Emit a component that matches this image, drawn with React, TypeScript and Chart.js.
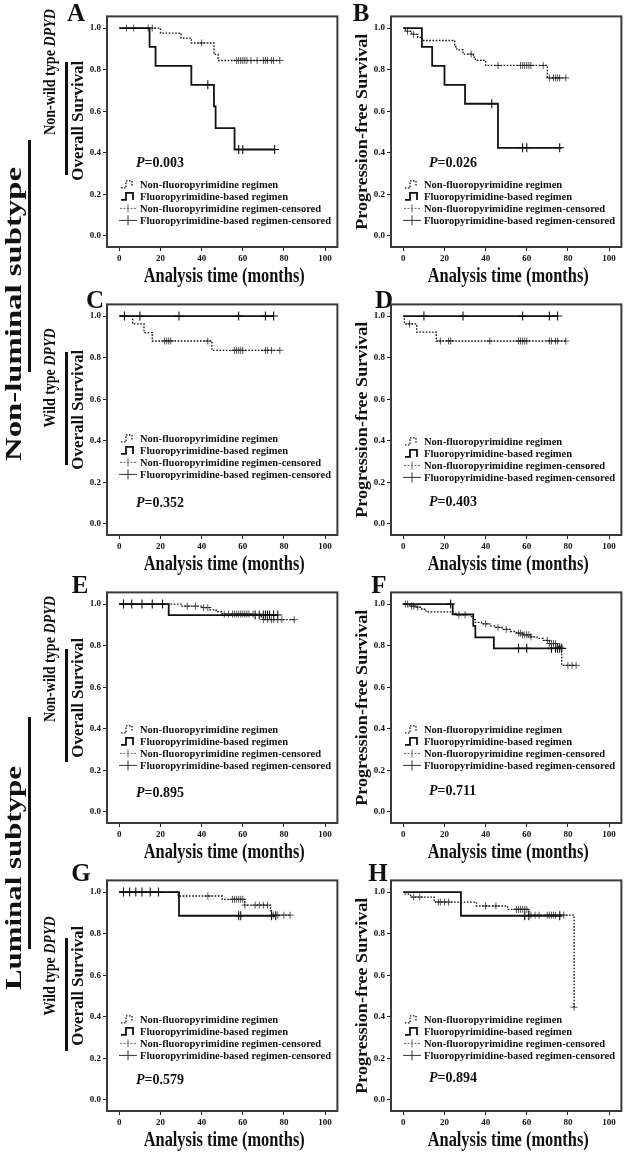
import React, { useEffect, useRef } from 'react';
import { Chart, registerables } from 'chart.js';

Chart.register(...registerables);

// ---------- shared axis / text content ----------
const X_TICKS = [0, 20, 40, 60, 80, 100];
const Y_TICKS = [0, 0.2, 0.4, 0.6, 0.8, 1.0];
const X_TITLE = 'Analysis time (months)';
const OS_TITLE = 'Overall Survival';
const PFS_TITLE = 'Progression-free Survival';
const LEGEND_LABELS = [
  'Non-fluoropyrimidine regimen',
  'Fluoropyrimidine-based regimen',
  'Non-fluoropyrimidine regimen-censored',
  'Fluoropyrimidine-based regimen-censored',
];
const PANEL_LETTERS = ['A', 'B', 'C', 'D', 'E', 'F', 'G', 'H'];
const P_VALUES = ['0.003', '0.026', '0.352', '0.403', '0.895', '0.711', '0.579', '0.894'];

// ---------- Panel A : non-luminal, non-wild type DPYD, OS ----------
const A_NON_T = [0, 20, 30, 35, 46, 48, 78];
const A_NON_S = [1, 0.976, 0.952, 0.928, 0.873, 0.844, 0.844];
const A_NON_CENS = [3.5, 7, 14, 16, 40, 57, 58, 59, 60, 61, 62, 64, 67, 70, 71, 72, 74, 75, 78];
const A_FLU_T = [0, 14.7, 17.6, 35, 46, 46.8, 56, 75.5];
const A_FLU_S = [1, 0.909, 0.818, 0.727, 0.623, 0.519, 0.416, 0.416];
const A_FLU_CENS = [43, 58, 60, 75.5];

// ---------- Panel B : non-luminal, non-wild type DPYD, PFS ----------
const B_NON_T = [0, 1, 4, 7, 9, 25, 26, 29, 34, 35, 40, 70, 79];
const B_NON_S = [1, 0.985, 0.97, 0.955, 0.94, 0.91, 0.895, 0.875, 0.86, 0.845, 0.82, 0.76, 0.76];
const B_NON_CENS = [2, 5, 33, 46, 57, 58, 59, 60, 61, 62, 68, 71, 73, 74, 75, 76, 79];
const B_FLU_T = [0, 9, 14, 20, 30, 46, 77];
const B_FLU_S = [1, 0.909, 0.818, 0.727, 0.636, 0.424, 0.424];
const B_FLU_CENS = [43, 58, 60, 76];

// ---------- Panel C : non-luminal, wild type DPYD, OS ----------
const C_NON_T = [0, 6.5, 12, 16, 45, 78];
const C_NON_S = [1, 0.962, 0.92, 0.88, 0.835, 0.835];
const C_NON_CENS = [22, 23, 24, 25, 43, 56, 57, 58, 59, 60, 71, 72, 74, 78];
const C_FLU_T = [0, 75];
const C_FLU_S = [1, 1];
const C_FLU_CENS = [2.5, 10, 29, 58, 71, 75];

// ---------- Panel D : non-luminal, wild type DPYD, PFS ----------
const D_NON_T = [0, 0.5, 6.5, 16, 79];
const D_NON_S = [1, 0.962, 0.923, 0.88, 0.88];
const D_NON_CENS = [3, 18, 22, 23, 42, 56, 57, 58, 59, 60, 71, 72, 74, 75, 79];
const D_FLU_T = [0, 75];
const D_FLU_S = [1, 1];
const D_FLU_CENS = [10, 29, 58, 71, 75];

// ---------- Panel E : luminal, non-wild type DPYD, OS ----------
const E_NON_T = [0, 30, 40, 44, 47, 50, 69, 70, 85];
const E_NON_S = [1, 0.99, 0.983, 0.972, 0.963, 0.952, 0.938, 0.925, 0.925];
const E_NON_CENS = [33, 37, 41, 43, 51, 53, 55, 56, 57, 58, 59, 60, 61, 62, 63, 65, 70, 72, 74, 75, 77, 79, 85];
const E_FLU_T = [0, 24, 77];
const E_FLU_S = [1, 0.947, 0.947];
const E_FLU_CENS = [2, 6, 11, 16, 21, 66, 68, 70, 71, 72, 73, 75, 77];

// ---------- Panel F : luminal, non-wild type DPYD, PFS ----------
const F_NON_T = [0, 3, 6, 9, 11, 24, 26, 33, 34, 35, 38, 42, 45, 48, 52, 55, 58, 62, 65, 68, 71, 75, 77, 84];
const F_NON_S = [1, 0.99, 0.985, 0.975, 0.962, 0.955, 0.948, 0.94, 0.925, 0.912, 0.905, 0.895, 0.888, 0.878, 0.868, 0.86, 0.852, 0.842, 0.835, 0.825, 0.81, 0.795, 0.705, 0.705];
const F_NON_CENS = [1, 2, 4, 5, 7, 27, 30, 40, 46, 50, 56, 57, 58, 59, 60, 61, 62, 70, 71, 72, 73, 74, 76, 80, 82, 84];
const F_FLU_T = [0, 24, 34, 35, 44, 77];
const F_FLU_S = [1, 0.95, 0.895, 0.84, 0.787, 0.787];
const F_FLU_CENS = [23, 56, 60, 72, 74, 75, 76, 77];

// ---------- Panel G : luminal, wild type DPYD, OS ----------
const G_NON_T = [0, 28.5, 50, 61, 73.5, 74, 83];
const G_NON_S = [1, 0.981, 0.965, 0.937, 0.91, 0.889, 0.889];
const G_NON_CENS = [43, 55, 56, 57, 58, 59, 60, 61, 66, 68, 70, 72, 75, 76, 77, 80, 83];
const G_FLU_T = [0, 29, 76];
const G_FLU_S = [1, 0.886, 0.886];
const G_FLU_CENS = [2, 5, 8, 11, 15, 19, 58, 59, 74, 76];

// ---------- Panel H : luminal, wild type DPYD, PFS ----------
const H_NON_T = [0, 0.5, 3.5, 15, 35.5, 50.7, 61, 83];
const H_NON_S = [1, 0.99, 0.976, 0.952, 0.933, 0.917, 0.889, 0.446];
const H_NON_CENS = [5, 8, 17, 18, 20, 22, 40, 45, 55, 56, 57, 58, 59, 60, 62, 64, 66, 70, 71, 72, 73, 74, 76, 78, 83];
const H_FLU_T = [0, 28, 77];
const H_FLU_S = [1, 0.886, 0.886];
const H_FLU_CENS = [59, 61, 76];

const SERIES = [
  [A_NON_T, A_NON_S, A_NON_CENS, A_FLU_T, A_FLU_S, A_FLU_CENS],
  [B_NON_T, B_NON_S, B_NON_CENS, B_FLU_T, B_FLU_S, B_FLU_CENS],
  [C_NON_T, C_NON_S, C_NON_CENS, C_FLU_T, C_FLU_S, C_FLU_CENS],
  [D_NON_T, D_NON_S, D_NON_CENS, D_FLU_T, D_FLU_S, D_FLU_CENS],
  [E_NON_T, E_NON_S, E_NON_CENS, E_FLU_T, E_FLU_S, E_FLU_CENS],
  [F_NON_T, F_NON_S, F_NON_CENS, F_FLU_T, F_FLU_S, F_FLU_CENS],
  [G_NON_T, G_NON_S, G_NON_CENS, G_FLU_T, G_FLU_S, G_FLU_CENS],
  [H_NON_T, H_NON_S, H_NON_CENS, H_FLU_T, H_FLU_S, H_FLU_CENS],
];

// ---------- layout / style ----------
const SERIF = '"Liberation Serif", "Times New Roman", serif';
const INK = '#111';
const FRAME = '#3a3a3a';
const BOX_W = 233;
const BOX_H = 232;
const PAD_L = 46;
const PAD_T = 6;
const PAD_R = 3;
const PAD_B = 40;

const LAYOUT = [
  { boxL: 107, boxT: 15, pX: 29, pY: 147, legY: 168, lx: 76, ly: 12, yDy: -11 },
  { boxL: 391, boxT: 15, pX: 38, pY: 147, legY: 168, lx: 361, ly: 12, yDy: 0 },
  { boxL: 107, boxT: 303, pX: 29, pY: 199, legY: 134, lx: 95, ly: 299, yDy: -10 },
  { boxL: 391, boxT: 303, pX: 38, pY: 198, legY: 137, lx: 384, ly: 299, yDy: 0 },
  { boxL: 107, boxT: 591, pX: 29, pY: 201, legY: 137, lx: 80, ly: 584, yDy: -10 },
  { boxL: 391, boxT: 591, pX: 38, pY: 199, legY: 137, lx: 379, ly: 584, yDy: 0 },
  { boxL: 107, boxT: 879, pX: 29, pY: 200, legY: 139, lx: 81, ly: 872, yDy: -10 },
  { boxL: 391, boxT: 879, pX: 38, pY: 198, legY: 139, lx: 378, ly: 872, yDy: 0 },
];

function stepValue(T: number[], S: number[], t: number) {
  let v = S[0];
  for (let i = 0; i < T.length; i++) if (T[i] <= t) v = S[i];
  return v;
}

function fitText(ctx: CanvasRenderingContext2D, text: string, x: number, y: number, font: string, len: number, rotate: boolean) {
  ctx.save();
  ctx.font = font;
  const w = ctx.measureText(text).width;
  ctx.translate(x, y);
  if (rotate) ctx.rotate(-Math.PI / 2);
  ctx.scale(len / w, 1);
  ctx.textAlign = 'center';
  ctx.textBaseline = 'middle';
  ctx.fillStyle = INK;
  ctx.fillText(text, 0, 0);
  ctx.restore();
}

const panelDeco = {
  id: 'panelDeco',
  afterDraw(chart: any, _args: any, opts: any) {
    const ctx: CanvasRenderingContext2D = chart.ctx;
    const a = chart.chartArea;
    ctx.save();
    // frame
    ctx.strokeStyle = FRAME;
    ctx.lineWidth = 2;
    ctx.setLineDash([]);
    ctx.strokeRect(a.left, a.top, a.right - a.left, a.bottom - a.top);
    // axis titles
    fitText(ctx, opts.xTitle, (a.left + a.right) / 2 + 2, a.bottom + 30, `bold 20px ${SERIF}`, 161, false);
    fitText(ctx, opts.yTitle, a.left - 28, (a.top + a.bottom) / 2 + opts.yDy, `bold 16px ${SERIF}`, opts.yLen, true);
    // P value
    const px = a.left + opts.pX;
    const py = a.top + opts.pY;
    ctx.fillStyle = INK;
    ctx.textAlign = 'left';
    ctx.textBaseline = 'middle';
    ctx.font = `italic bold 14px ${SERIF}`;
    ctx.fillText('P', px, py);
    const pw = ctx.measureText('P').width;
    ctx.font = `bold 14px ${SERIF}`;
    ctx.fillText('=' + opts.p, px + pw, py);
    // legend
    const x0 = a.left + 14;
    const lh = 12;
    opts.labels.forEach((lab: string, i: number) => {
      const y = a.top + opts.legY + i * lh;
      ctx.save();
      ctx.strokeStyle = INK;
      if (i === 0) {
        ctx.lineWidth = 1.3;
        ctx.setLineDash([1.5, 1.5]);
        ctx.beginPath();
        ctx.moveTo(x0, y + 3.5);
        ctx.lineTo(x0 + 5, y + 3.5);
        ctx.lineTo(x0 + 5, y - 3.5);
        ctx.lineTo(x0 + 11, y - 3.5);
        ctx.lineTo(x0 + 11, y + 1);
        ctx.stroke();
      } else if (i === 1) {
        ctx.lineWidth = 1.8;
        ctx.beginPath();
        ctx.moveTo(x0, y + 3.5);
        ctx.lineTo(x0 + 5, y + 3.5);
        ctx.lineTo(x0 + 5, y - 3.5);
        ctx.lineTo(x0 + 12, y - 3.5);
        ctx.lineTo(x0 + 12, y + 3.5);
        ctx.stroke();
      } else if (i === 2) {
        ctx.strokeStyle = '#555';
        ctx.lineWidth = 0.9;
        ctx.setLineDash([2, 1.5]);
        ctx.beginPath();
        ctx.moveTo(x0 - 1, y);
        ctx.lineTo(x0 + 15, y);
        ctx.stroke();
        ctx.setLineDash([]);
        ctx.beginPath();
        ctx.moveTo(x0 + 7, y - 4);
        ctx.lineTo(x0 + 7, y + 4);
        ctx.stroke();
      } else {
        ctx.strokeStyle = '#333';
        ctx.lineWidth = 1;
        ctx.beginPath();
        ctx.moveTo(x0 - 2, y);
        ctx.lineTo(x0 + 16, y);
        ctx.moveTo(x0 + 7, y - 5);
        ctx.lineTo(x0 + 7, y + 5);
        ctx.stroke();
      }
      ctx.restore();
      ctx.fillStyle = INK;
      ctx.font = `bold 10.5px ${SERIF}`;
      ctx.textAlign = 'left';
      ctx.textBaseline = 'middle';
      ctx.fillText(lab, x0 + 19, y + 0.5);
    });
    ctx.restore();
  },
};

function buildConfig(idx: number): any {
  const [nT, nS, nC, fT, fS, fC] = SERIES[idx];
  const L = LAYOUT[idx];
  const isOS = idx % 2 === 0;
  const tickFont = { family: SERIF, weight: 'bold' as const, size: 9 };
  return {
    type: 'line',
    data: {
      datasets: [
        {
          label: LEGEND_LABELS[0],
          data: nT.map((t, i) => ({ x: t, y: nS[i] })),
          stepped: 'before',
          borderColor: INK,
          borderWidth: 1.3,
          borderDash: [1.6, 1.6],
          pointRadius: 0,
          fill: false,
        },
        {
          label: LEGEND_LABELS[1],
          data: fT.map((t, i) => ({ x: t, y: fS[i] })),
          stepped: 'before',
          borderColor: INK,
          borderWidth: 1.8,
          pointRadius: 0,
          fill: false,
        },
        {
          label: LEGEND_LABELS[2],
          data: nC.map((t) => ({ x: t, y: stepValue(nT, nS, t) })),
          showLine: false,
          pointStyle: 'cross',
          pointRadius: 3.5,
          pointBorderWidth: 0.9,
          pointBorderColor: '#444',
          borderColor: '#444',
        },
        {
          label: LEGEND_LABELS[3],
          data: fC.map((t) => ({ x: t, y: stepValue(fT, fS, t) })),
          showLine: false,
          pointStyle: 'cross',
          pointRadius: 4.5,
          pointBorderWidth: 1.1,
          pointBorderColor: INK,
          borderColor: INK,
        },
      ],
    },
    options: {
      responsive: false,
      maintainAspectRatio: false,
      animation: false,
      events: [],
      layout: { padding: { left: 0, top: PAD_T, right: PAD_R, bottom: 0 } },
      plugins: {
        legend: { display: false },
        tooltip: { enabled: false },
        panelDeco: {
          xTitle: X_TITLE,
          yTitle: isOS ? OS_TITLE : PFS_TITLE,
          yLen: isOS ? 120 : 196,
          yDy: L.yDy,
          p: P_VALUES[idx],
          pX: L.pX,
          pY: L.pY,
          legY: L.legY,
          labels: LEGEND_LABELS,
        },
      },
      scales: {
        x: {
          type: 'linear',
          min: -6,
          max: 106,
          afterBuildTicks: (s: any) => {
            s.ticks = X_TICKS.map((v) => ({ value: v }));
          },
          afterFit: (s: any) => {
            s.height = PAD_B;
          },
          grid: { drawOnChartArea: false, drawTicks: true, tickLength: 4, color: '#222', lineWidth: 1 },
          border: { display: false },
          ticks: { font: tickFont, color: INK, padding: 2, maxRotation: 0, autoSkip: false },
        },
        y: {
          type: 'linear',
          min: -0.053,
          max: 1.056,
          afterBuildTicks: (s: any) => {
            s.ticks = Y_TICKS.map((v) => ({ value: v }));
          },
          afterFit: (s: any) => {
            s.width = PAD_L;
          },
          grid: { drawOnChartArea: false, drawTicks: true, tickLength: 4, color: '#222', lineWidth: 1 },
          border: { display: false },
          ticks: {
            font: tickFont,
            color: INK,
            padding: 2,
            autoSkip: false,
            callback: (v: any) => Number(v).toFixed(1),
          },
        },
      },
    },
    plugins: [panelDeco],
  };
}

function Panel({ idx }: { idx: number }) {
  const ref = useRef<HTMLCanvasElement>(null);
  const L = LAYOUT[idx];
  const W = PAD_L + BOX_W + PAD_R;
  const H = PAD_T + BOX_H + PAD_B;
  useEffect(() => {
    const chart = new Chart(ref.current as HTMLCanvasElement, buildConfig(idx));
    return () => chart.destroy();
  }, [idx]);
  return (
    <canvas
      ref={ref}
      width={W}
      height={H}
      style={{ position: 'absolute', left: L.boxL - PAD_L, top: L.boxT - PAD_T, width: W, height: H }}
    />
  );
}

function RotLabel({ cx, cy, len, size, main, ital }: { cx: number; cy: number; len: number; size: number; main: string; ital?: string }) {
  return (
    <text
      x={cx}
      y={cy}
      transform={`rotate(-90 ${cx} ${cy})`}
      textAnchor="middle"
      dominantBaseline="central"
      textLength={len}
      lengthAdjust="spacingAndGlyphs"
      fontFamily={SERIF}
      fontWeight="bold"
      fontSize={size}
      fill={INK}
    >
      {main}
      {ital ? <tspan fontStyle="italic">{ital}</tspan> : null}
    </text>
  );
}

export default function App() {
  return (
    <div
      style={{
        position: 'absolute',
        left: 0,
        top: 0,
        width: 625,
        height: 1152,
        overflow: 'hidden',
        background: '#fff',
      }}
    >
      {PANEL_LETTERS.map((_, i) => (
        <Panel key={i} idx={i} />
      ))}
      <svg width={625} height={1152} style={{ position: 'absolute', left: 0, top: 0, pointerEvents: 'none' }}>
        {PANEL_LETTERS.map((ch, i) => (
          <text
            key={ch}
            x={LAYOUT[i].lx}
            y={LAYOUT[i].ly}
            textAnchor="middle"
            dominantBaseline="central"
            fontFamily={SERIF}
            fontWeight="bold"
            fontSize={25}
            fill={INK}
          >
            {ch}
          </text>
        ))}
        <RotLabel cx={12.5} cy={314} len={294} size={24} main="Non-luminal subtype" />
        <rect x={28} y={140} width={3} height={232} fill={INK} />
        <RotLabel cx={12.5} cy={878} len={224} size={24} main="Luminal subtype" />
        <rect x={28} y={717} width={3} height={232} fill={INK} />

        <RotLabel cx={49} cy={72} len={126} size={17} main="Non-wild type " ital="DPYD" />
        <rect x={65} y={62} width={3} height={113} fill={INK} />
        <RotLabel cx={49} cy={378} len={99} size={17} main="Wild type " ital="DPYD" />
        <rect x={65} y={352} width={3} height={113} fill={INK} />
        <RotLabel cx={49} cy={659} len={126} size={17} main="Non-wild type " ital="DPYD" />
        <rect x={65} y={649} width={3} height={113} fill={INK} />
        <RotLabel cx={49} cy={966} len={99} size={17} main="Wild type " ital="DPYD" />
        <rect x={65} y={938} width={3} height={113} fill={INK} />
      </svg>
    </div>
  );
}
